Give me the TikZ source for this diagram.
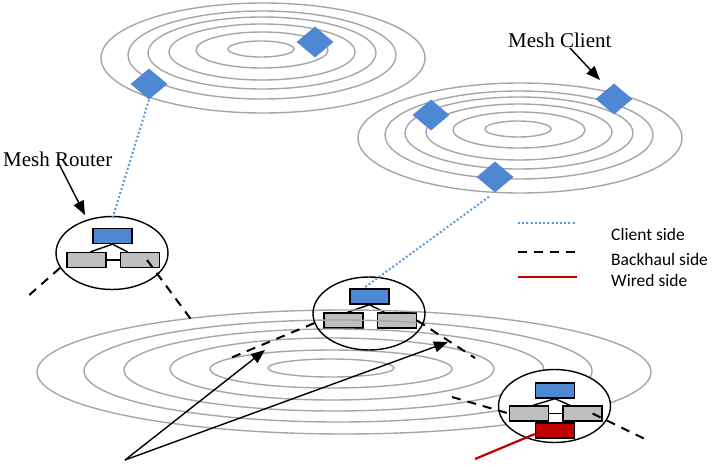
\documentclass[tikz,border=0pt]{standalone}
\usepackage{fontspec}
\setmainfont{Liberation Serif}
\newfontfamily\legendfont{Carlito}
\usetikzlibrary{shapes.geometric,arrows.meta,calc}
\definecolor{ringgray}{HTML}{A6A6A6}
\definecolor{nodeblue}{HTML}{4F88D2}
\definecolor{boxgray}{HTML}{BFBFBF}
\definecolor{wirered}{HTML}{C00000}
\definecolor{clientblue}{HTML}{5B9BD5}
\tikzset{
  ring/.style={draw=ringgray, line width=1.4pt},
  client/.style={diamond, fill=nodeblue, draw=none, inner sep=0pt, minimum width=37pt, minimum height=31pt},
  router/.style={ellipse, draw, line width=1.4pt, inner sep=0pt, minimum width=112pt, minimum height=73pt},
  cbox/.style={rectangle, draw, line width=1.4pt, inner sep=0pt, minimum width=39pt, minimum height=15pt},
  bluebox/.style={cbox, fill=nodeblue},
  graybox/.style={cbox, fill=boxgray},
  redbox/.style={cbox, fill=wirered},
  link/.style={line width=1.4pt},
  clientline/.style={draw=clientblue, line width=2pt, dash pattern=on 2pt off 2.2pt},
  backhaul/.style={line width=2pt, dash pattern=on 9pt off 7pt},
  wired/.style={draw=wirered, line width=2.2pt},
  pointer/.style={line width=1.4pt, -{Triangle[length=14pt,width=11pt]}},
  bigtext/.style={font=\fontsize{21}{25}\selectfont, inner sep=0pt},
  legendtext/.style={font=\legendfont\fontsize{17.5}{21}\selectfont, inner sep=0pt, anchor=base west},
}
% concentric coverage rings: {dx/dy/rx/ry} relative to the outer centre
\newcommand{\smallrings}[1]{%
  \foreach \dx/\dy/\rx/\ry in {0/0/162/55, -1/-3/134/44, -1/-5/114/36, -1/-6/93/28, -1/-8/66/18, -2/-9/33/8}
    \draw[ring] ($#1+(\dx,\dy)$) ellipse [x radius=\rx pt, y radius=\ry pt];}
\begin{document}
\begin{tikzpicture}[x=1pt, y=-1pt]
\useasboundingbox (0,0) rectangle (712,466);
\clip (0,0) rectangle (712,466);

% client clusters
\smallrings{(263,58)}
\smallrings{(520,138)}
\node[client] (dA1) at (149,84) {};
\node[client] (dA2) at (315,42) {};
\node[client] (dB1) at (431,115) {};
\node[client] (dB2) at (614,99) {};
\node[client] (dB3) at (495,177) {};

% router B (drawn under the backbone rings)
\coordinate (rBc) at (369,313.5);
\node[bluebox] (bB) at ($(rBc)+(0.5,-17)$) {};
\node[graybox] (gB1) at ($(rBc)+(-25.5,7)$) {};
\node[graybox] (gB2) at ($(rBc)+(28,7)$) {};
\draw[link] (bB.south) -- ($(gB1.north)+(4,0)$);
\draw[link] (bB.south) -- ($(gB2.north)+(-12.5,0)$);
\draw[link] (gB1.east) -- (gB2.west);

% backbone rings
\foreach \dx/\dy/\rx/\ry in {0/0/307/62, -6/-1/254/51, -10/-2/210/41, -12/-3/162/31, -13/-3/121/19, -13/-4/63/9}
  \draw[ring] ($(344,372)+(\dx,\dy)$) ellipse [x radius=\rx pt, y radius=\ry pt];

\node[router] (rB) at (rBc) {};

% router A
\node[router, fill=white] (rA) at (112,253) {};
\node[bluebox] (bA) at ($(rA)+(0.5,-17)$) {};
\node[graybox] (gA1) at ($(rA)+(-25.5,7)$) {};
\node[graybox] (gA2) at ($(rA)+(28,7)$) {};
\draw[link] (bA.south) -- ($(gA1.north)+(4,0)$);
\draw[link] (bA.south) -- ($(gA2.north)+(-12.5,0)$);
\draw[link] (gA1.east) -- (gA2.west);

% router C (gateway with wired port)
\node[router, fill=white] (rC) at (554.5,406) {};
\node[bluebox] (bC) at ($(rC)+(0.5,-15.5)$) {};
\node[graybox] (gC1) at ($(rC)+(-25.5,7.5)$) {};
\node[graybox] (gC2) at ($(rC)+(28,7.5)$) {};
\node[redbox] (rdC) at ($(rC)+(0.5,24.5)$) {};
\draw[link] (bC.south) -- ($(gC1.north)+(4,0)$);
\draw[link] (bC.south) -- ($(gC2.north)+(-12.5,0)$);
\draw[link] (gC1.east) -- (gC2.west);

% client side links
\draw[clientline] (dA1.south) -- ([yshift=-4pt]rA.north);
\draw[clientline] ([xshift=-6pt,yshift=-4pt]dB3.south) -- ([xshift=-6pt]bB.north);

% backhaul links
\coordinate (hA1) at (27,297);
\coordinate (hA2) at (193,322);
\coordinate (hB1) at (228,359);
\coordinate (hB2) at (475,358);
\coordinate (hC1) at (452,397);
\coordinate (hC2) at (649,441);
\draw[backhaul] (rA.196) -- (hA1);
\draw[backhaul] ([xshift=7pt]gA2.center) -- (hA2);
\draw[backhaul] (rB.190) -- (hB1);
\draw[backhaul] (gB2.east) -- (hB2);
\draw[backhaul] (hC1) -- (gC1.west);
\draw[backhaul] ([xshift=10pt]gC2.center) -- (hC2);

% wired uplink
\coordinate (wireEnd) at (475,459);
\draw[wired] ([yshift=-3.5pt]rdC.west) -- (wireEnd);

% labels and pointers
\node[bigtext, anchor=base west] (lblRouter) at (3,166) {Mesh Router};
\node[bigtext, anchor=base west] (lblClient) at (508,47) {Mesh Client};
\coordinate (routerTail) at (58,162);
\coordinate (routerTip) at (85,215);
\coordinate (clientTail) at (570,48);
\coordinate (clientTip) at (600,80);
\draw[pointer] (routerTail) -- (routerTip);
\draw[pointer] (clientTail) -- (clientTip);

\coordinate (src) at (125,460);
\coordinate (tipL) at (265,350);
\coordinate (tipR) at (448,342);
\draw[pointer] (src) -- (tipL);
\draw[pointer] (src) -- (tipR);

% legend
\coordinate (lg1a) at (518,222.7); \coordinate (lg1b) at (576,222.7);
\coordinate (lg2a) at (518,252.3); \coordinate (lg2b) at (578,252.3);
\coordinate (lg3a) at (518,277.3); \coordinate (lg3b) at (577,277.3);
\draw[clientline] (lg1a) -- (lg1b);
\draw[backhaul] (lg2a) -- (lg2b);
\draw[wired] (lg3a) -- (lg3b);
\node[legendtext] (lgt1) at (611,240.7) {Client side};
\node[legendtext] (lgt2) at (611,265) {Backhaul side};
\node[legendtext] (lgt3) at (611,286.7) {Wired side};
\end{tikzpicture}
\end{document}
